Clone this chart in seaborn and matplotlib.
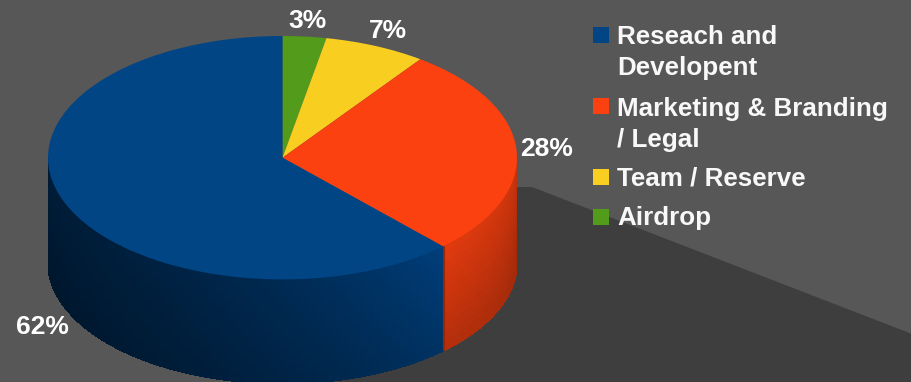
import numpy as np
import matplotlib
matplotlib.use("Agg")
import matplotlib.pyplot as plt
import seaborn as sns
from matplotlib.collections import PolyCollection
from matplotlib.patches import Polygon, Rectangle
from matplotlib.colors import to_rgb

# ---- data ----
categories = ["Airdrop", "Team / Reserve", "Marketing & Branding\n/ Legal", "Reseach and\nDevelopent"]
values = [3, 7, 28, 62]
pct_labels = ["3%", "7%", "28%", "62%"]
colors = ["#529b1b", "#f8ce20", "#fb4110", "#014585"]
legend_order = [3, 2, 1, 0]

sns.set_theme(style="dark", rc={"figure.facecolor": "#575757", "axes.facecolor": "#575757"})
plt.rcParams["font.family"] = ["Liberation Sans", "DejaVu Sans"]

W, H = 912, 382
fig = plt.figure(figsize=(W / 100, H / 100), dpi=100)
fig.patch.set_facecolor("#575757")

# background axes in pixel coordinates
bg = fig.add_axes([0, 0, 1, 1])
bg.set_xlim(0, W)
bg.set_ylim(H, 0)
bg.axis("off")
bg.add_patch(Polygon([(460, 187), (532, 187), (912, 334), (912, 382), (320, 382)],
                     closed=True, fc="#3e3e3e", ec="none", zorder=0))

# pie geometry
x0, x1 = 48, 517
ytop = 36
ry = 121.7
depth = 104
d = depth / ry
ymin_u = 1 - (H - ytop) / ry

ax = fig.add_axes([x0 / W, 0, (x1 - x0) / W, (H - ytop) / H])
ax.patch.set_alpha(0)
wedges, _ = ax.pie(values, colors=colors, startangle=90, counterclock=False,
                   wedgeprops=dict(linewidth=0))
for w in wedges:
    w.set_zorder(5)
ax.set_aspect("auto")
ax.set_xlim(-1, 1)
ax.set_ylim(ymin_u, 1)
ax.axis("off")


def side_color(idx, t_frac, v):
    c = colors[idx]
    if c == "#014585":
        dark = np.array(to_rgb("#001a33"))
        light = np.array(to_rgb("#003a72"))
        col = dark + (light - dark) * (t_frac ** 2.2)
        col = col * (1.08 - 0.2 * v)
    else:
        top = np.array(to_rgb(c)) * 0.9
        col = top * (1.0 - 0.12 * t_frac) * (1.0 - 0.2 * v)
    return np.clip(col, 0, 1)


polys, pcols = [], []
for i, w in enumerate(wedges):
    t1, t2 = w.theta1, w.theta2
    for k in (-720, -360, 0, 360):
        lo, hi = max(t1 + k, 180), min(t2 + k, 360)
        if hi > lo:
            n = max(int((hi - lo) * 1.5), 4)
            angs = np.radians(np.linspace(lo, hi, n + 1))
            m = 12
            for j in range(n):
                a, b = angs[j], angs[j + 1]
                tf = (np.degrees(a) - lo) / (hi - lo)
                for r in range(m):
                    v0, v1 = r / m, (r + 1) / m
                    polys.append([(np.cos(a), np.sin(a) - d * v0), (np.cos(b), np.sin(b) - d * v0),
                                  (np.cos(b), np.sin(b) - d * v1), (np.cos(a), np.sin(a) - d * v1)])
                    pcols.append(side_color(i, tf, (v0 + v1) / 2))
pc = PolyCollection(polys, facecolors=pcols, edgecolors=pcols, linewidths=0.8,
                    antialiaseds=False, zorder=2)
ax.add_collection(pc)

# seam shadow on orange side
for i, w in enumerate(wedges):
    if colors[i] == "#fb4110":
        a = np.radians(w.theta1)
        ax.plot([np.cos(a) + 0.004, np.cos(a) + 0.004], [np.sin(a), np.sin(a) - d],
                color="#9a2606", lw=1.5, zorder=3)

# percentage labels
cum = 90.0
for i, v in enumerate(values):
    span = 360 * v / sum(values)
    mid = np.radians(cum - span / 2)
    cum -= span
    r = 1.13
    lx, ly = r * np.cos(mid), r * np.sin(mid)
    if ly < 0:
        ly -= d * 1.14
    ax.text(lx + (0.025 if ly < 0 else 0), ly, pct_labels[i], ha="center", va="center",
            color="white", fontsize=19, fontweight="bold", zorder=10, clip_on=False)

# legend
sq_top = [27, 98, 169, 209]
base = [44, 116, 185, 225]
line_gap = 31
for k, idx in enumerate(legend_order):
    bg.add_patch(Rectangle((593, sq_top[k]), 16, 16, fc=colors[idx], ec="none", zorder=4))
    for ln, line in enumerate(categories[idx].split("\n")):
        bg.text(617, base[k] + ln * line_gap, line, color="#f8f8f8", fontsize=18.7,
                fontweight="bold", ha="left", va="baseline", zorder=4)

fig.savefig("out.png", dpi=100, facecolor=fig.get_facecolor())
